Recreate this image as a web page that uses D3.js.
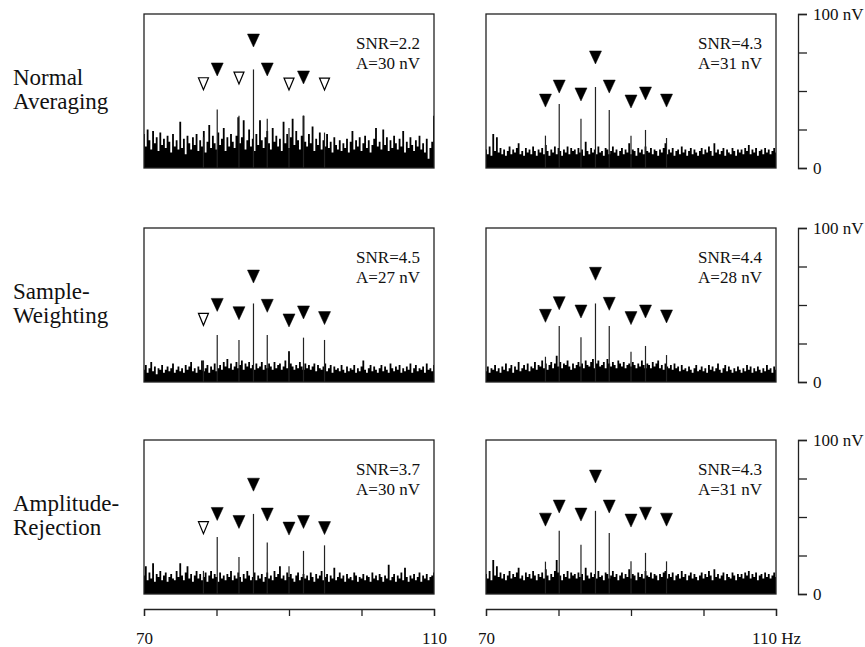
<!DOCTYPE html>
<html>
<head>
<meta charset="utf-8">
<script src="https://cdn.jsdelivr.net/npm/d3@7"></script>
<style>
  body { margin: 0; background: #fff; }
  text { font-family: "Liberation Serif", "DejaVu Serif", "Times New Roman", Times, serif; fill: #111; }
</style>
</head>
<body>
<svg id="canvas" width="865" height="647"></svg>
<script>
// methods (rows) and panels: left column / right column
let methods = [["Normal", "Averaging"], ["Sample-", "Weighting"], ["Amplitude-", "Rejection"]]
let snrLabels = ["SNR=2.2", "SNR=4.3", "SNR=4.5", "SNR=4.4", "SNR=3.7", "SNR=4.3"]
let ampLabels = ["A=30 nV", "A=31 nV", "A=27 nV", "A=28 nV", "A=30 nV", "A=31 nV"]

// frequency axis
let fStart = 70
let fEnd = 110
let fStep = 0.25
let xTicks = [70, 80, 90, 100, 110]
let yTicks = [0, 25, 50, 75, 100]

// response frequencies (Hz) marked with triangles
let peakFreqs = [78.2, 80.1, 83.1, 85.1, 87.0, 90.0, 92.0, 94.9]

// peak amplitudes (nV) per panel
let peaksNormalL = [20, 38, 34, 64, 32, 26, 34, 23]
let peaksNormalR = [21, 41.5, 32, 52.6, 37.7, 21, 24.7, 19.5]
let peaksSampleL = [14, 30.5, 27.3, 51, 30.5, 19.7, 28.8, 27.3]
let peaksSampleR = [16.4, 36.4, 29, 51, 36.4, 19.7, 23.4, 17.5]
let peaksAmpL = [15, 37, 24, 52, 33.5, 18, 28, 31.6]
let peaksAmpR = [21, 41, 32, 54, 39.6, 21.2, 26.7, 21.2]

// marker level (nV, top of triangle) per panel
let markNormalL = [58.6, 68.2, 62.3, 87, 68.2, 58.4, 63, 58.4]
let markNormalR = [48, 57.1, 52, 76, 57.1, 47.4, 52.6, 48]
let markSampleL = [44.6, 54.3, 48.9, 72.7, 53.7, 44.2, 49.4, 45.7]
let markSampleR = [47.2, 55.4, 50, 74.5, 55, 45.7, 50, 46.8]
let markAmpL = [47, 56.2, 51, 75.2, 55.8, 46.7, 51, 47]
let markAmpR = [52.5, 61, 55.8, 80.5, 61, 51.9, 56.4, 52.5]

// significant (filled) or not (open)
let sigNormalL = [0, 1, 0, 1, 1, 0, 1, 0]
let sigNormalR = [1, 1, 1, 1, 1, 1, 1, 1]
let sigSampleL = [0, 1, 1, 1, 1, 1, 1, 1]
let sigSampleR = [1, 1, 1, 1, 1, 1, 1, 1]
let sigAmpL = [0, 1, 1, 1, 1, 1, 1, 1]
let sigAmpR = [1, 1, 1, 1, 1, 1, 1, 1]

// noise spectrum (nV), 70-110 Hz in 0.25 Hz bins
let noiseNormalL = [
  22, 14, 25, 18, 12, 24, 16, 20, 11, 23, 15, 19, 13, 21, 17, 10, 22, 14, 18, 12,
  30, 13, 19, 9, 21, 16, 12, 20, 15, 22, 11, 18, 14, 24, 10, 17, 28, 13, 21, 16,
  12, 23, 15, 19, 26, 11, 20, 14, 22, 17, 13, 21, 33, 16, 20, 31, 12, 18, 25, 14,
  19, 11, 22, 15, 31, 18, 13, 20, 24, 16, 12, 26, 17, 21, 14, 19, 11, 30, 16, 22,
  13, 20, 32, 15, 24, 18, 12, 21, 34, 17, 14, 22, 16, 27, 11, 19, 15, 23, 12, 18,
  14, 22, 13, 17, 10, 20, 15, 12, 18, 11, 16, 13, 19, 10, 17, 24, 12, 18, 14, 20,
  11, 16, 21, 13, 18, 10, 15, 19, 26, 14, 17, 12, 25, 15, 20, 11, 18, 13, 21, 16,
  12, 19, 14, 24, 10, 17, 13, 20, 15, 11, 18, 14, 21, 12, 16, 10, 19, 6, 13, 17, 34]
let noiseNormalR = [
  12, 9, 14, 8, 22, 11, 20, 10, 13, 9, 12, 8, 11, 14, 9, 12, 10, 13, 16, 9,
  11, 8, 13, 10, 12, 9, 14, 11, 8, 12, 10, 13, 9, 15, 11, 8, 12, 10, 14, 9,
  13, 11, 8, 12, 10, 14, 9, 13, 11, 12, 9, 13, 10, 12, 8, 17, 11, 9, 13, 10,
  12, 9, 14, 10, 11, 8, 13, 12, 9, 11, 14, 10, 12, 8, 11, 13, 9, 12, 10, 16,
  9, 12, 11, 8, 13, 10, 12, 9, 14, 11, 10, 13, 9, 12, 11, 8, 12, 10, 13, 16,
  9, 12, 10, 13, 8, 11, 12, 9, 14, 10, 12, 8, 11, 13, 9, 12, 10, 8, 11, 13,
  9, 12, 10, 14, 11, 8, 16, 10, 12, 9, 11, 13, 8, 12, 10, 9, 13, 11, 8, 12,
  10, 12, 9, 13, 11, 15, 9, 12, 10, 13, 8, 11, 12, 9, 13, 10, 12, 9, 11, 13, 10]
let noiseSampleL = [
  8, 11, 6, 9, 13, 7, 10, 5, 9, 8, 11, 6, 8, 10, 7, 9, 12, 6, 8, 10,
  7, 9, 6, 11, 8, 10, 13, 7, 9, 6, 10, 8, 14, 7, 9, 11, 6, 10, 8, 12,
  7, 9, 11, 8, 13, 10, 15, 9, 12, 8, 10, 13, 9, 11, 14, 8, 12, 10, 13, 9,
  11, 8, 12, 9, 10, 13, 8, 11, 9, 12, 10, 8, 13, 9, 11, 12, 8, 10, 14, 9,
  20, 12, 10, 8, 11, 9, 13, 10, 8, 12, 9, 11, 8, 10, 12, 7, 11, 9, 8, 10,
  12, 7, 9, 11, 6, 10, 8, 9, 7, 11, 8, 6, 10, 7, 9, 8, 11, 6, 9, 7,
  10, 14, 8, 6, 9, 11, 7, 10, 8, 6, 9, 11, 7, 10, 8, 6, 12, 9, 7, 10,
  8, 11, 6, 9, 7, 10, 8, 12, 6, 9, 11, 7, 9, 8, 10, 6, 12, 8, 9, 7, 11]
let noiseSampleR = [
  7, 10, 6, 9, 8, 11, 7, 9, 6, 10, 8, 12, 7, 9, 11, 6, 10, 8, 13, 7,
  9, 11, 8, 12, 7, 10, 9, 13, 8, 11, 10, 14, 9, 12, 8, 11, 13, 9, 12, 17,
  10, 13, 9, 12, 11, 14, 10, 8, 12, 9, 11, 13, 10, 12, 9, 14, 11, 10, 13, 15,
  9, 12, 14, 10, 11, 13, 9, 15, 12, 10, 13, 11, 9, 14, 12, 10, 13, 9, 11, 12,
  10, 13, 11, 9, 12, 10, 14, 11, 9, 12, 11, 9, 13, 10, 12, 14, 9, 11, 8, 12,
  10, 9, 11, 8, 12, 9, 10, 7, 11, 8, 9, 7, 10, 8, 6, 9, 11, 7, 8, 10,
  7, 9, 6, 11, 8, 10, 7, 9, 12, 8, 6, 9, 11, 7, 10, 8, 6, 9, 7, 10,
  8, 6, 9, 7, 11, 8, 10, 6, 9, 7, 10, 8, 6, 9, 7, 11, 8, 9, 6, 10, 8]
let noiseAmpL = [
  12, 18, 9, 14, 10, 20, 8, 13, 11, 15, 9, 12, 14, 8, 11, 13, 10, 9, 15, 11,
  20, 12, 9, 14, 18, 10, 13, 8, 12, 15, 10, 13, 9, 11, 14, 8, 12, 15, 10, 13,
  11, 8, 14, 10, 12, 9, 13, 11, 15, 9, 12, 10, 14, 11, 8, 13, 10, 15, 12, 9,
  11, 14, 9, 12, 10, 13, 8, 11, 14, 10, 12, 9, 15, 11, 13, 18, 10, 12, 9, 14,
  11, 13, 10, 8, 12, 14, 9, 11, 13, 10, 12, 9, 14, 11, 8, 13, 10, 12, 15, 9,
  11, 13, 8, 12, 10, 17, 9, 11, 14, 10, 12, 8, 13, 10, 11, 9, 14, 12, 8, 11,
  10, 13, 9, 12, 11, 8, 14, 10, 12, 9, 13, 11, 8, 12, 10, 19, 9, 11, 13, 8,
  12, 10, 14, 9, 17, 11, 8, 12, 10, 13, 9, 11, 14, 8, 12, 10, 13, 9, 11, 12, 14]
let noiseAmpR = [
  13, 10, 15, 9, 22, 12, 18, 11, 14, 10, 13, 9, 12, 15, 10, 13, 11, 14, 17, 10,
  12, 9, 14, 11, 13, 10, 15, 12, 9, 13, 11, 14, 10, 16, 12, 9, 13, 11, 15, 22,
  14, 12, 9, 13, 11, 15, 10, 14, 12, 13, 10, 14, 11, 13, 9, 17, 12, 10, 14, 11,
  13, 10, 15, 11, 12, 9, 14, 13, 10, 12, 15, 11, 13, 9, 12, 14, 10, 13, 11, 16,
  10, 13, 12, 9, 14, 11, 13, 10, 15, 12, 11, 14, 10, 13, 12, 9, 13, 11, 14, 15,
  10, 13, 11, 14, 9, 12, 13, 10, 15, 11, 13, 9, 12, 14, 10, 13, 11, 9, 12, 14,
  10, 13, 11, 15, 12, 9, 16, 11, 13, 10, 12, 14, 9, 13, 11, 10, 14, 12, 9, 13,
  11, 13, 10, 14, 12, 15, 10, 13, 11, 14, 9, 12, 13, 10, 14, 11, 13, 10, 12, 14, 11]

let panels = [
  { row: 0, col: 0, noise: noiseNormalL, peaks: peaksNormalL, marks: markNormalL, sig: sigNormalL },
  { row: 0, col: 1, noise: noiseNormalR, peaks: peaksNormalR, marks: markNormalR, sig: sigNormalR },
  { row: 1, col: 0, noise: noiseSampleL, peaks: peaksSampleL, marks: markSampleL, sig: sigSampleL },
  { row: 1, col: 1, noise: noiseSampleR, peaks: peaksSampleR, marks: markSampleR, sig: sigSampleR },
  { row: 2, col: 0, noise: noiseAmpL, peaks: peaksAmpL, marks: markAmpL, sig: sigAmpL },
  { row: 2, col: 1, noise: noiseAmpR, peaks: peaksAmpR, marks: markAmpR, sig: sigAmpR }
]

let colLeft = [144, 486]
let rowTop = [14, 228, 440]
let panelW = 290
let panelH = 154

let canvas = d3.select("#canvas")

let xScaleFor = (col) => d3.scaleLinear().domain([fStart, fEnd]).range([colLeft[col], colLeft[col] + panelW])
let yScaleFor = (row) => d3.scaleLinear().domain([0, 100]).range([rowTop[row] + panelH, rowTop[row]])

let drawPanel = (p, i) => {
  let x = xScaleFor(p.col)
  let y = yScaleFor(p.row)
  let g = canvas.append("g").attr("class", "panel")

  let area = d3.area()
    .x((d, k) => x(fStart + k * fStep))
    .y0(y(0))
    .y1((d) => y(d))
    .curve(d3.curveStep)

  g.append("path")
    .datum(p.noise)
    .attr("d", area)
    .attr("fill", "#000")

  g.selectAll("line.peak")
    .data(p.peaks)
    .enter()
    .append("line")
    .attr("class", "peak")
    .attr("x1", (d, k) => x(peakFreqs[k]))
    .attr("x2", (d, k) => x(peakFreqs[k]))
    .attr("y1", y(0))
    .attr("y2", (d) => y(d))
    .attr("stroke", "#222")
    .attr("stroke-width", 1.2)

  g.append("rect")
    .attr("x", x(fStart))
    .attr("y", y(100))
    .attr("width", x(fEnd) - x(fStart))
    .attr("height", y(0) - y(100))
    .attr("fill", "none")
    .attr("stroke", "#222")
    .attr("stroke-width", 1.3)

  g.selectAll("path.marker")
    .data(p.marks)
    .enter()
    .append("path")
    .attr("class", "marker")
    .attr("d", (d, k) => {
      let cx = x(peakFreqs[k])
      let top = y(d)
      let w = p.sig[k] ? 6 : 5
      let h = p.sig[k] ? 13 : 12
      return "M" + (cx - w) + "," + top + "L" + (cx + w) + "," + top + "L" + cx + "," + (top + h) + "Z"
    })
    .attr("fill", (d, k) => p.sig[k] ? "#000" : "#fff")
    .attr("stroke", "#000")
    .attr("stroke-width", (d, k) => p.sig[k] ? 0.5 : 1.2)
    .attr("stroke-linejoin", "miter")

  g.append("text")
    .attr("x", x(fEnd) - 14)
    .attr("y", y(100) + 35)
    .attr("text-anchor", "end")
    .style("font-size", "17px")
    .text(snrLabels[i])

  g.append("text")
    .attr("x", x(fEnd) - 14)
    .attr("y", y(100) + 55)
    .attr("text-anchor", "end")
    .style("font-size", "17px")
    .text(ampLabels[i])
}

panels.forEach(drawPanel)

// row labels
methods.forEach((m, r) => {
  let t = canvas.append("text")
    .attr("x", 13)
    .attr("y", rowTop[r] + 71)
    .style("font-size", "23px")
  t.append("tspan").attr("x", 13).text(m[0])
  t.append("tspan").attr("x", 13).attr("dy", 24).text(m[1])
})

// amplitude axes on the right
rowTop.forEach((top, r) => {
  let y = yScaleFor(r)
  let axis = d3.axisRight(y)
    .tickValues(yTicks)
    .tickSize(9)
    .tickSizeOuter(9)
    .tickPadding(6)
    .tickFormat((d) => d === 100 ? "100 nV" : d === 0 ? "0" : "")
  let ga = canvas.append("g")
    .attr("transform", "translate(798,0)")
    .call(axis)
  ga.selectAll("path, line").attr("stroke", "#222").attr("stroke-width", 1.3)
  ga.selectAll("text")
    .style("font-size", "17px")
    .style("font-family", "'Liberation Serif', 'DejaVu Serif', serif")
    .attr("fill", "#111")
})

// frequency axes at the bottom
;[0, 1].forEach((col) => {
  let x = xScaleFor(col)
  let axis = d3.axisBottom(x)
    .tickValues(xTicks)
    .tickSize(7)
    .tickSizeOuter(7)
    .tickPadding(16)
    .tickFormat((d) => d === 70 ? "70" : d === 110 ? (col === 1 ? "110 Hz" : "110") : "")
  let ga = canvas.append("g")
    .attr("transform", "translate(0,609)")
    .call(axis)
  ga.selectAll("path, line").attr("stroke", "#222").attr("stroke-width", 1.3)
  ga.selectAll("text")
    .style("font-size", "17px")
    .style("font-family", "'Liberation Serif', 'DejaVu Serif', serif")
    .attr("fill", "#111")
})
</script>
</body>
</html>
